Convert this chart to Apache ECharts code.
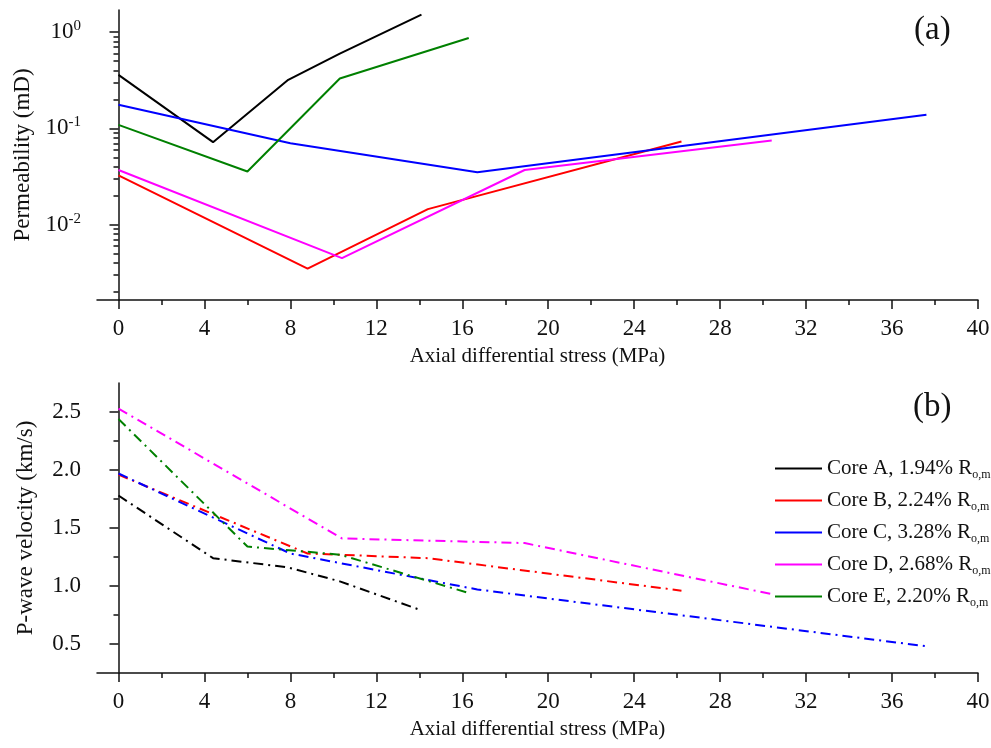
<!DOCTYPE html>
<html>
<head>
<meta charset="utf-8">
<script src="https://cdn.jsdelivr.net/npm/echarts@6/dist/echarts.min.js"></script>
<style>
  html, body { margin: 0; padding: 0; background: #fff; }
  #chart { width: 991px; height: 748px; }
</style>
</head>
<body>
<div id="chart"></div>
<script>
// Cores and their maturity
const coreNames = ["Core A", "Core B", "Core C", "Core D", "Core E"];
const coreRo = ["1.94%", "2.24%", "3.28%", "2.68%", "2.20%"];

// Axial differential stress (MPa) of each measurement, per core
const stressA = [0, 4.4, 7.9, 10.3, 14.1];
const stressB = [0, 8.8, 14.4, 26.2];
const stressC = [0, 8.0, 16.7, 37.6];
const stressD = [0, 10.4, 18.9, 30.4];
const stressE = [0, 6.0, 10.3, 16.3];

// (a) permeability (mD)
const permA = [0.36, 0.072, 0.32, 0.6, 1.52];
const permB = [0.0325, 0.0035, 0.0145, 0.073];
const permC = [0.176, 0.07, 0.035, 0.139];
const permD = [0.037, 0.0045, 0.037, 0.075];
const permE = [0.109, 0.0357, 0.33, 0.87];

// (b) P-wave velocity (km/s)
const vpA = [1.78, 1.24, 1.16, 1.04, 0.79];
const vpB = [1.96, 1.28, 1.24, 0.96];
const vpC = [1.97, 1.28, 0.97, 0.48];
const vpD = [2.53, 1.41, 1.37, 0.93];
const vpE = [2.44, 1.34, 1.27, 0.94];

// tick values
const stressTicks = [0, 4, 8, 12, 16, 20, 24, 28, 32, 36, 40];
const stressMinorTicks = [2, 6, 10, 14, 18, 22, 26, 30, 34, 38];
const permTicks = [0.01, 0.1, 1];
const vpTicks = [0.5, 1.0, 1.5, 2.0, 2.5];
const vpMinorTicks = [0.75, 1.25, 1.75, 2.25];

const permMinorTicks = [];
for (const e of [-3, -2, -1]) {
  for (let m = 2; m <= 9; m++) {
    permMinorTicks.push(+(m * Math.pow(10, e)).toPrecision(3));
  }
}

const colors = ["#000000", "#ff0000", "#0000ff", "#ff00ff", "#008000"];
const stress = [stressA, stressB, stressC, stressD, stressE];
const perm = [permA, permB, permC, permD, permE];
const vp = [vpA, vpB, vpC, vpD, vpE];

const FONT = "Liberation Serif";
const X_MIN = -1;
const X_MAX = 40;
const PERM_MIN = 0.00165;
const PERM_MAX = 1.7;
const VP_MIN = 0.25;
const VP_MAX = 2.75;

const axisLine = { show: true, lineStyle: { color: "#111", width: 1.5 } };
const labelStyle = { fontFamily: FONT, fontSize: 23, color: "#111" };
const yNameStyle = { fontFamily: FONT, fontSize: 23, color: "#111" };
const xNameStyle = { fontFamily: FONT, fontSize: 21, color: "#111" };

const panels = [
  { left: 97, top: 10, width: 881, height: 290 },
  { left: 97, top: 383, width: 881, height: 290 },
];

const grid = [];
panels.forEach((p) => {
  // major + minor grid stacked on the same rectangle
  grid.push({ ...p, outerBoundsMode: "none" });
  grid.push({ ...p, outerBoundsMode: "none" });
});

function xMajor(gridIndex) {
  return {
    type: "value",
    gridIndex,
    min: X_MIN,
    max: X_MAX,
    name: "Axial differential stress (MPa)",
    nameLocation: "middle",
    nameGap: 46,
    nameTextStyle: xNameStyle,
    axisLine,
    axisTick: {
      show: true,
      customValues: stressTicks,
      length: 9,
      lineStyle: { color: "#111", width: 1.5 },
    },
    axisLabel: { ...labelStyle, margin: 17, customValues: stressTicks },
    splitLine: { show: false },
  };
}

function xMinor(gridIndex) {
  return {
    type: "value",
    gridIndex,
    min: X_MIN,
    max: X_MAX,
    axisLine: { show: false },
    axisTick: {
      show: true,
      customValues: stressMinorTicks,
      length: 5,
      lineStyle: { color: "#111", width: 1.5 },
    },
    axisLabel: { show: false },
    splitLine: { show: false },
  };
}

const xAxis = [xMajor(0), xMinor(1), xMajor(2), xMinor(3)];

const yAxis = [
  {
    type: "log",
    logBase: 10,
    gridIndex: 0,
    min: PERM_MIN,
    max: PERM_MAX,
    name: "Permeability (mD)",
    nameLocation: "middle",
    nameGap: 60,
    nameTextStyle: yNameStyle,
    axisLine,
    axisTick: {
      show: true,
      customValues: permTicks,
      length: 9,
      lineStyle: { color: "#111", width: 1.5 },
    },
    axisLabel: {
      ...labelStyle,
      margin: 16,
      customValues: permTicks,
      formatter: (v) => "10{sup|" + Math.round(Math.log10(v)) + "}",
      rich: {
        sup: { fontFamily: FONT, fontSize: 15, color: "#111", padding: [0, 0, 12, 0] },
      },
    },
    splitLine: { show: false },
  },
  {
    type: "log",
    logBase: 10,
    gridIndex: 1,
    min: PERM_MIN,
    max: PERM_MAX,
    axisLine: { show: false },
    axisTick: {
      show: true,
      customValues: permMinorTicks,
      length: 5,
      lineStyle: { color: "#111", width: 1.5 },
    },
    axisLabel: { show: false },
    splitLine: { show: false },
  },
  {
    type: "value",
    gridIndex: 2,
    min: VP_MIN,
    max: VP_MAX,
    name: "P-wave velocity (km/s)",
    nameLocation: "middle",
    nameGap: 60,
    nameTextStyle: yNameStyle,
    axisLine,
    axisTick: {
      show: true,
      customValues: vpTicks,
      length: 9,
      lineStyle: { color: "#111", width: 1.5 },
    },
    axisLabel: {
      ...labelStyle,
      margin: 16,
      customValues: vpTicks,
      formatter: (v) => v.toFixed(1),
    },
    splitLine: { show: false },
  },
  {
    type: "value",
    gridIndex: 3,
    min: VP_MIN,
    max: VP_MAX,
    axisLine: { show: false },
    axisTick: {
      show: true,
      customValues: vpMinorTicks,
      length: 5,
      lineStyle: { color: "#111", width: 1.5 },
    },
    axisLabel: { show: false },
    splitLine: { show: false },
  },
];

const series = [];
coreNames.forEach((name, i) => {
  // (a) permeability, solid lines
  series.push({
    name,
    type: "line",
    xAxisIndex: 0,
    yAxisIndex: 0,
    symbol: "none",
    lineStyle: { color: colors[i], width: 2 },
    itemStyle: { color: colors[i] },
    data: stress[i].map((x, k) => [x, perm[i][k]]),
  });
});
coreNames.forEach((name, i) => {
  // (b) P-wave velocity, dash-dot lines
  series.push({
    name,
    type: "line",
    xAxisIndex: 2,
    yAxisIndex: 2,
    symbol: "none",
    lineStyle: { color: colors[i], width: 2, type: [10, 5, 2, 5] },
    itemStyle: { color: colors[i] },
    data: stress[i].map((x, k) => [x, vp[i][k]]),
  });
});

const option = {
  animation: false,
  backgroundColor: "#fff",
  textStyle: { fontFamily: FONT },
  title: [
    {
      text: "(a)",
      left: 909,
      top: 9,
      textStyle: { fontFamily: FONT, fontSize: 33, fontWeight: "normal", color: "#111" },
    },
    {
      text: "(b)",
      left: 908,
      top: 386,
      textStyle: { fontFamily: FONT, fontSize: 33, fontWeight: "normal", color: "#111" },
    },
  ],
  legend: {
    orient: "vertical",
    left: 775,
    top: 458,
    padding: 0,
    itemWidth: 47,
    itemHeight: 2,
    itemGap: 9,
    data: coreNames.map((name) => ({ name, icon: "rect" })),
    selectedMode: false,
    formatter: (name) =>
      name + ", " + coreRo[coreNames.indexOf(name)] + " R{sub|o,m}",
    textStyle: {
      fontFamily: FONT,
      fontSize: 21,
      color: "#111",
      rich: {
        sub: { fontFamily: FONT, fontSize: 12, color: "#111", padding: [13, 0, 0, 0] },
      },
    },
  },
  grid,
  xAxis,
  yAxis,
  series,
};

const chart = echarts.init(document.getElementById("chart"));
chart.setOption(option);
</script>
</body>
</html>
